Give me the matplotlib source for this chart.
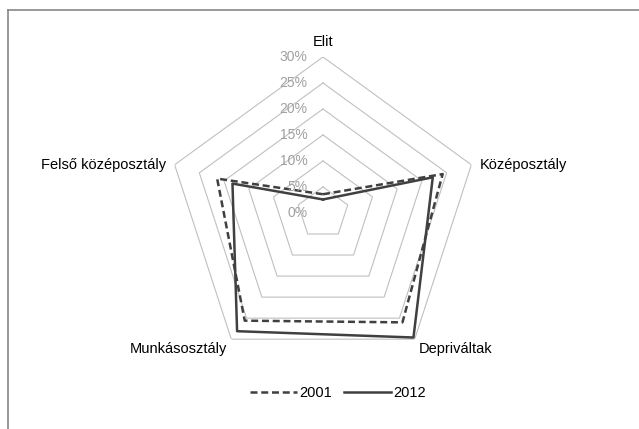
import numpy as np
import matplotlib.pyplot as plt

plt.rcParams["font.family"] = ["Liberation Sans", "DejaVu Sans"]

# Data (share of population, %)
categories = ["Elit", "Középosztály", "Depriváltak", "Munkásosztály", "Felső középosztály"]
values_2001 = [3.6, 24.2, 26.0, 25.6, 21.4]
values_2012 = [2.6, 22.2, 29.6, 28.1, 18.3]
ticks = [0, 5, 10, 15, 20, 25, 30]
tick_labels = ["0%", "5%", "10%", "15%", "20%", "25%", "30%"]

# label placement (offset in points, alignment)
label_layout = [
    ((0, 11), "center", "center"),
    ((6, 0), "left", "center"),
    ((3, -7), "left", "center"),
    ((-3, -7), "right", "center"),
    ((-6, 0), "right", "center"),
]

fig = plt.figure(figsize=(6.39, 4.29), dpi=100)
ax = fig.add_axes([0.2613, 0.1399, 0.4883, 0.7273], projection="polar")
ax.set_theta_zero_location("N")
ax.set_theta_direction(-1)

angles = np.linspace(0, 2 * np.pi, len(categories), endpoint=False)
closed = np.append(angles, angles[0])

# pentagon gridlines
for t in ticks[1:]:
    ax.plot(closed, [t] * len(closed), color="#c0c0c0", lw=0.8, zorder=1)

# series
ax.plot(closed, values_2001 + values_2001[:1], color="#404040", lw=1.8,
        linestyle=(0, (2.8, 1.5)), label="2001", zorder=3)
ax.plot(closed, values_2012 + values_2012[:1], color="#404040", lw=1.8,
        label="2012", zorder=3)

ax.set_ylim(0, 30)
ax.grid(False)
ax.spines["polar"].set_visible(False)
ax.set_xticks([])
ax.set_yticks([])

# radial tick labels
for t, lab in zip(ticks, tick_labels):
    ax.annotate(lab, xy=(0, t), xytext=(-11, 0), textcoords="offset points",
                ha="right", va="center", color="#a0a0a0", fontsize=10)

# category labels
for ang, cat, (off, ha, va) in zip(angles, categories, label_layout):
    ax.annotate(cat, xy=(ang, 30), xytext=off, textcoords="offset points",
                ha=ha, va=va, fontsize=10.5, color="black")

fig.legend(loc="center", bbox_to_anchor=(338 / 639, 1 - 393 / 429), ncol=2,
           frameon=False, fontsize=10.5, handlelength=3.2, handletextpad=0.2,
           columnspacing=0.8)

# partial chart frame (top and left)
fig.add_artist(plt.Line2D([8 / 639, 1], [1 - 10 / 429, 1 - 10 / 429],
                          color="#888888", lw=1.2, transform=fig.transFigure))
fig.add_artist(plt.Line2D([8 / 639, 8 / 639], [0, 1 - 10 / 429],
                          color="#888888", lw=1.2, transform=fig.transFigure))

fig.savefig("out.png", dpi=100)
